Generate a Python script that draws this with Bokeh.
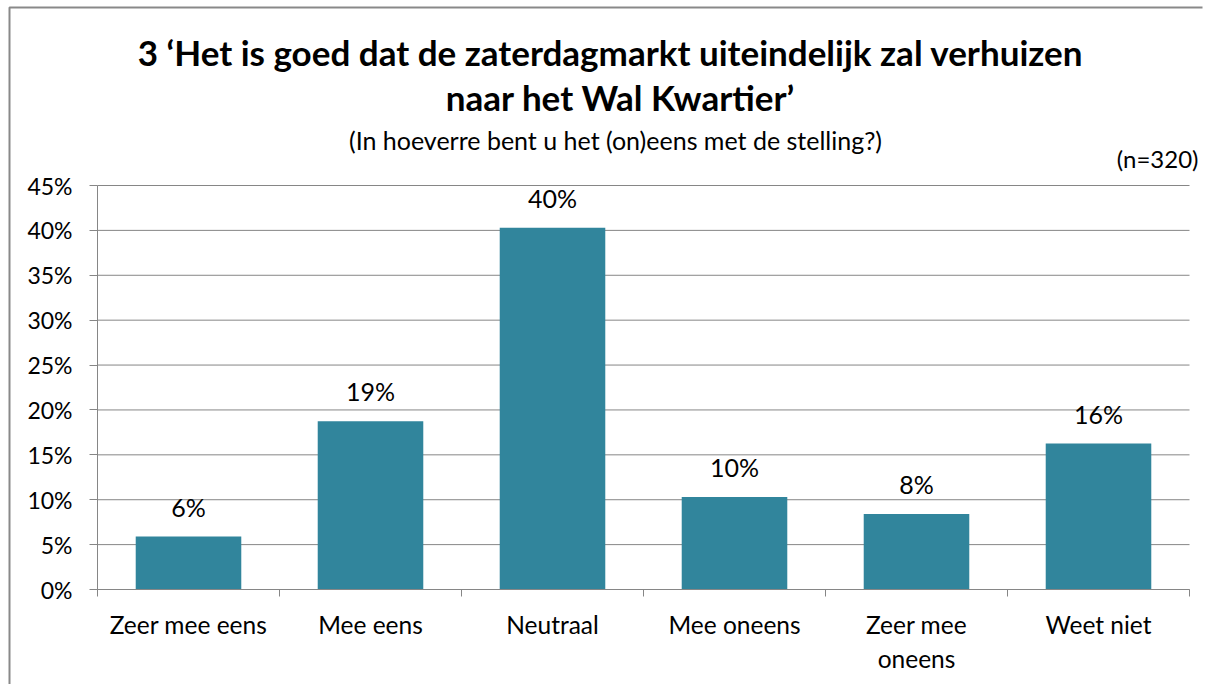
from bokeh.plotting import figure
from bokeh.models import (ColumnDataSource, Range1d, FixedTicker, NumeralTickFormatter,
                          LabelSet, Label)
from bokeh.core.properties import value
from bokeh.embed import file_html
from bokeh.resources import INLINE

categories = ["Zeer mee eens", "Mee eens", "Neutraal", "Mee oneens", "Zeer mee\noneens", "Weet niet"]
values = [0.059, 0.1875, 0.403, 0.103, 0.084, 0.1625]
y_ticks = [0, 0.05, 0.10, 0.15, 0.20, 0.25, 0.30, 0.35, 0.40, 0.45]
title_lines = ["3 \u2018Het is goed dat de zaterdagmarkt uiteindelijk zal verhuizen",
               "naar het Wal Kwartier\u2019"]
subtitle = "(In hoeverre bent u het (on)eens met de stelling?)"
n_note = "(n=320)"

FONT = "Lato"
GREY = "#868686"
BAR = "#31859C"

# layout geometry (pixels)
W, H = 1214, 684
LEFT, BOTTOM, RIGHT = 97, 95, 12
PX_X = 182.0            # pixels per category
PX_Y = 404.0 / 0.45     # pixels per unit of share
n = len(categories)

centers = [i + 0.5 for i in range(n)]
bounds = list(range(n + 1))
labels = [f"{round(v * 100)}%" for v in values]
src = ColumnDataSource(dict(x=centers, top=values, lab=labels))

# the plotting frame covers (almost) the whole canvas; axes sit at fixed locations inside it
p = figure(width=W, height=H, output_backend="svg", toolbar_location=None,
           x_range=Range1d(-LEFT / PX_X, (W - RIGHT - LEFT) / PX_X),
           y_range=Range1d(-BOTTOM / PX_Y, (H - BOTTOM) / PX_Y),
           min_border_left=0, min_border_right=RIGHT, min_border_top=0, min_border_bottom=0)
p.outline_line_color = None
p.background_fill_color = "white"
p.border_fill_color = "white"

def dx(X):
    return (X - LEFT) / PX_X

def dy(Y):
    return (H - BOTTOM - Y) / PX_Y

# chart border (left and top edges visible)
p.quad(left=[dx(9)], right=[dx(W + 60)], top=[dy(7)], bottom=[dy(H + 60)],
       fill_color=None, line_color="#898989", line_width=2)

# horizontal gridlines across the plot area only
p.segment(x0=[0] * len(y_ticks), x1=[n] * len(y_ticks), y0=y_ticks, y1=y_ticks,
          line_color=GREY, line_width=1)

p.vbar(x="x", top="top", width=0.58, source=src, fill_color=BAR, line_color=None)

# y axis
yax = p.yaxis[0]
yax.fixed_location = 0
yax.ticker = FixedTicker(ticks=y_ticks)
yax.bounds = (0, 0.45)
yax.formatter = NumeralTickFormatter(format="0%")
yax.axis_line_color = GREY
yax.major_tick_line_color = GREY
yax.major_tick_out = 8
yax.major_tick_in = 0
yax.minor_tick_line_color = None
yax.major_label_text_font = FONT
yax.major_label_text_font_size = "23px"
yax.major_label_text_color = "black"
yax.major_label_standoff = 17

# x axis: labels at category centres, tick marks at category boundaries
xax = p.xaxis[0]
xax.fixed_location = 0
xax.ticker = FixedTicker(ticks=centers, minor_ticks=bounds)
xax.bounds = (0, n)
xax.major_label_overrides = {c: lab for c, lab in zip(centers, categories)}
xax.axis_line_color = GREY
xax.major_tick_line_color = None
xax.major_tick_out = 0
xax.major_tick_in = 0
xax.minor_tick_line_color = GREY
xax.minor_tick_out = 7
xax.minor_tick_in = 0
xax.major_label_text_font = FONT
xax.major_label_text_font_size = "24.5px"
xax.major_label_text_color = "black"
xax.major_label_standoff = 13

p.xgrid.grid_line_color = None
p.ygrid.grid_line_color = None

# value labels
p.add_layout(LabelSet(x="x", y="top", text="lab", source=src, text_align="center",
                      text_baseline="alphabetic", y_offset=20, text_font=value(FONT),
                      text_font_size=value("25px"), text_color="black"))

p.add_layout(Label(x=dx(610), y=dy(51), text=title_lines[0], text_align="center",
                   text_baseline="alphabetic", text_font=FONT, text_font_size="35px",
                   text_font_style="bold", text_color="black"))
p.add_layout(Label(x=dx(620), y=dy(96), text=title_lines[1], text_align="center",
                   text_baseline="alphabetic", text_font=FONT, text_font_size="35px",
                   text_font_style="bold", text_color="black"))
p.add_layout(Label(x=dx(615), y=dy(139), text=subtitle, text_align="center",
                   text_baseline="alphabetic", text_font=FONT, text_font_size="25px",
                   text_color="black"))
p.add_layout(Label(x=dx(1198), y=dy(158), text=n_note, text_align="right",
                   text_baseline="alphabetic", text_font=FONT, text_font_size="24px",
                   text_color="black"))

open("out.html", "w").write(file_html(p, INLINE))
